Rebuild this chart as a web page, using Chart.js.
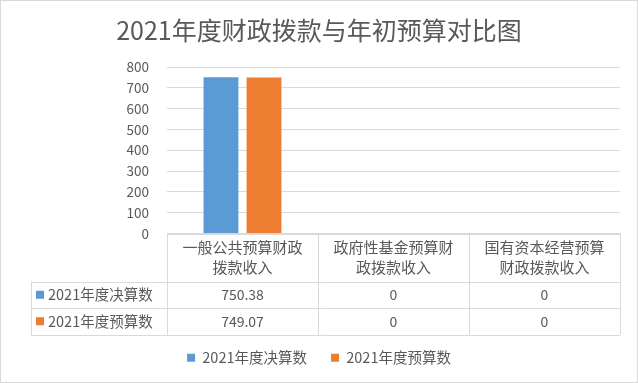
<!DOCTYPE html>
<html>
<head>
<meta charset="utf-8">
<script src="https://cdn.jsdelivr.net/npm/chart.js@4"></script>
<style>
    html, body { margin: 0; padding: 0; background: #fff; }
    #wrap { width: 638px; height: 383px; }
</style>
</head>
<body>
<div id="wrap"><canvas id="chart" width="638" height="383"></canvas></div>
<script>
// Daten
const categories = [
    ['一般公共预算财政', '拨款收入'],
    ['政府性基金预算财', '政拨款收入'],
    ['国有资本经营预算', '财政拨款收入']
];
const seriesNames = ['2021年度决算数', '2021年度预算数'];
const actualValues = [750.38, 0, 0];
const budgetValues = [749.07, 0, 0];
const valueLabels = [
    ['750.38', '0', '0'],
    ['749.07', '0', '0']
];

const COLORS = {
    blue: '#5B9BD5',
    orange: '#ED7D31',
    text: '#595959',
    grid: '#D9D9D9'
};
const FONT = '"Noto Sans CJK SC", "Noto Sans", sans-serif';
const seriesColors = [COLORS.blue, COLORS.orange];

// Tabelle unter dem Diagramm
const dataTablePlugin = {
    id: 'dataTable',
    afterDraw(chart) {
        const ctx = chart.ctx;
        const x = chart.scales.x;
        const area = chart.chartArea;
        const colW = x.width / categories.length;
        const top = area.bottom;
        const headBottom = top + 48;
        const rowH = 26.5;
        const tableLeft = 31;
        const right = x.right;

        ctx.save();
        ctx.strokeStyle = COLORS.grid;
        ctx.lineWidth = 1;
        ctx.beginPath();
        const hline = (x1, x2, y) => {
            ctx.moveTo(x1, Math.round(y) + 0.5);
            ctx.lineTo(x2, Math.round(y) + 0.5);
        };
        const vline = (xx, y1, y2) => {
            ctx.moveTo(Math.round(xx) + 0.5, y1);
            ctx.lineTo(Math.round(xx) + 0.5, y2);
        };
        hline(x.left, right, top);
        hline(tableLeft, right, headBottom);
        hline(tableLeft, right, headBottom + rowH);
        hline(tableLeft, right, headBottom + rowH * 2);
        for (let i = 0; i <= categories.length; i++) {
            vline(x.left + colW * i, top, headBottom + rowH * 2);
        }
        vline(tableLeft, headBottom, headBottom + rowH * 2);
        ctx.stroke();

        // Kopfzeile
        ctx.fillStyle = COLORS.text;
        ctx.textAlign = 'center';
        ctx.textBaseline = 'middle';
        ctx.font = '15px ' + FONT;
        categories.forEach((lines, i) => {
            const cx = x.getPixelForValue(i);
            lines.forEach((t, j) => {
                ctx.fillText(t, cx, top + 14 + j * 20);
            });
        });

        // Datenzeilen
        valueLabels.forEach((row, r) => {
            const cy = headBottom + rowH * r + rowH / 2;
            ctx.fillStyle = seriesColors[r];
            ctx.fillRect(36, cy - 4, 8, 8);
            ctx.fillStyle = COLORS.text;
            ctx.textAlign = 'left';
            ctx.font = '14.5px ' + FONT;
            ctx.fillText(seriesNames[r], 48, cy);
            ctx.textAlign = 'center';
            ctx.font = '14px ' + FONT;
            row.forEach((v, i) => {
                ctx.fillText(v, x.getPixelForValue(i), cy);
            });
        });

        // Rahmen
        ctx.strokeStyle = COLORS.grid;
        ctx.strokeRect(0.5, 0.5, chart.width - 1, chart.height - 1);
        ctx.restore();
    }
};

new Chart(document.getElementById('chart'), {
    type: 'bar',
    data: {
        labels: categories.map(c => c.join('')),
        datasets: [{
            label: seriesNames[0],
            data: actualValues,
            backgroundColor: COLORS.blue,
            categoryPercentage: 0.57,
            barPercentage: 0.81
        }, {
            label: seriesNames[1],
            data: budgetValues,
            backgroundColor: COLORS.orange,
            categoryPercentage: 0.57,
            barPercentage: 0.81
        }]
    },
    options: {
        responsive: false,
        animation: false,
        layout: {
            padding: { left: 18, right: 18, top: 0, bottom: 8 }
        },
        plugins: {
            title: {
                display: true,
                text: '2021年度财政拨款与年初预算对比图',
                color: COLORS.text,
                font: { family: FONT, size: 25, weight: 'normal' },
                padding: { top: 15, bottom: 22 }
            },
            legend: {
                position: 'bottom',
                labels: {
                    color: COLORS.text,
                    font: { family: FONT, size: 14.5 },
                    boxWidth: 8,
                    boxHeight: 8,
                    padding: 24
                }
            },
            tooltip: { enabled: false }
        },
        scales: {
            x: {
                ticks: { display: false },
                grid: { display: false },
                border: { display: false },
                afterFit: (scale) => { scale.height = 93; }
            },
            y: {
                min: 0,
                max: 800,
                ticks: {
                    stepSize: 100,
                    color: COLORS.text,
                    font: { family: FONT, size: 13.5 },
                    padding: 18
                },
                grid: { color: COLORS.grid, drawTicks: false },
                border: { display: false },
                afterFit: (scale) => { scale.width = 149; }
            }
        }
    },
    plugins: [dataTablePlugin]
});
</script>
</body>
</html>
